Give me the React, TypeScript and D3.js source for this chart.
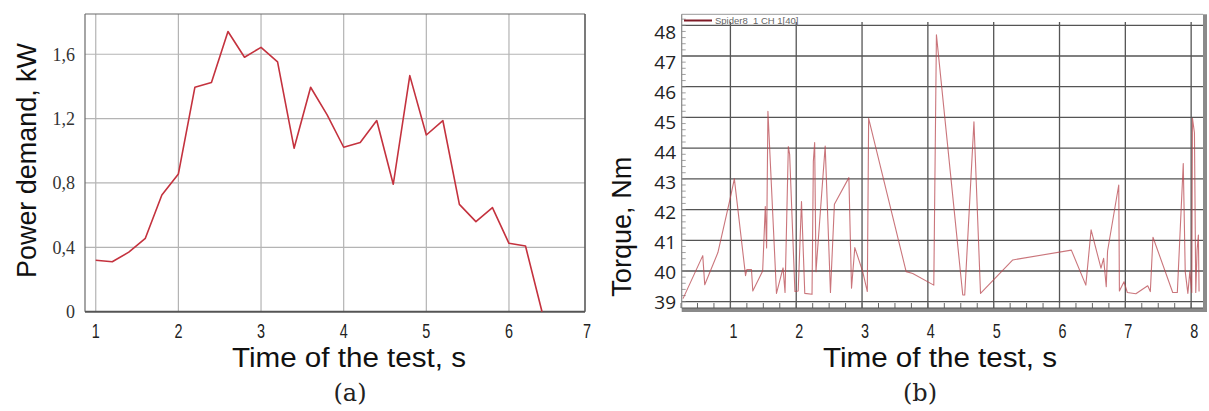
import React from 'react';
import * as d3 from 'd3';

// (a) power demand, sampled every 0.2 s
const timeA = [1, 1.2, 1.4, 1.6, 1.8, 2, 2.2, 2.4, 2.6, 2.8, 3, 3.2, 3.4, 3.6, 3.8, 4, 4.2, 4.4, 4.6, 4.8, 5, 5.2, 5.4, 5.6, 5.8, 6, 6.2, 6.4];
const power = [0.32, 0.31, 0.37, 0.456, 0.725, 0.856, 1.395, 1.424, 1.741, 1.581, 1.643, 1.552, 1.016, 1.395, 1.223, 1.022, 1.051, 1.188, 0.792, 1.467, 1.098, 1.188, 0.667, 0.56, 0.647, 0.425, 0.408, 0];
const xTicksA = [1, 2, 3, 4, 5, 6, 7];
const yTicksA = [0, 0.4, 0.8, 1.2, 1.6];
const yLabelsA = ['0', '0,4', '0,8', '1,2', '1,6'];

// (b) torque, Spider8 recording
const timeB = [0.28, 0.58, 0.61, 0.81, 0.99, 1.06, 1.23, 1.25, 1.32, 1.34, 1.49, 1.53, 1.55, 1.57, 1.7, 1.8, 1.83, 1.88, 1.9, 1.98, 2.03, 2.08, 2.13, 2.24, 2.26, 2.28, 2.3, 2.44, 2.52, 2.58, 2.8, 2.84, 2.89, 3.01, 3.08, 3.1, 3.67, 3.77, 4.09, 4.13, 4.53, 4.56, 4.7, 4.8, 5.29, 6.18, 6.4, 6.48, 6.63, 6.67, 6.71, 6.73, 6.9, 6.91, 6.98, 7.03, 7.16, 7.34, 7.38, 7.42, 7.72, 7.79, 7.88, 7.91, 7.95, 7.98, 8.01, 8.02, 8.05, 8.07, 8.09, 8.11, 8.12];
const torque = [39.1, 40.5, 39.55, 40.6, 42.3, 43.0, 39.85, 40.05, 40.05, 39.35, 40.0, 42.1, 40.75, 45.2, 39.27, 40.1, 39.3, 44.05, 43.8, 39.33, 39.35, 42.26, 39.27, 39.24, 43.56, 44.18, 39.98, 44.07, 39.3, 42.17, 43.04, 39.44, 40.76, 39.98, 39.33, 44.97, 39.98, 39.92, 39.54, 47.69, 39.22, 39.22, 44.86, 39.27, 40.36, 40.68, 39.54, 41.34, 40.09, 40.41, 39.49, 40.65, 42.8, 39.35, 39.65, 39.3, 39.26, 39.52, 39.33, 41.1, 39.3, 39.3, 43.5, 39.98, 39.27, 39.98, 39.3, 44.97, 44.5, 39.3, 40.68, 41.17, 39.33];
const xTicksB = [1, 2, 3, 4, 5, 6, 7, 8];
const yTicksB = [39, 40, 41, 42, 43, 44, 45, 46, 47, 48];
const legendB = 'Spider8_1 CH 1[40]';

const titleFont = '"Liberation Sans", Arial, sans-serif';

// condensed digits under the x axes
const NarrowLabel = ({ x, y, children }: { x: number; y: number; children: React.ReactNode }) => (
  <text transform={`translate(${x},${y}) scale(0.72,1)`} dy="0.36em" textAnchor="middle"
    fontFamily={titleFont} fontSize={20} fill="#222">{children}</text>
);

const PowerChart = () => {
  const left = 85, right = 585, top = 14, bottom = 311.7;
  const x = d3.scaleLinear().domain([0.87, 6.92]).range([left, right]);
  const y = d3.scaleLinear().domain([0, 1.85]).range([bottom, top]);
  const line = d3.line<number>().x((d, i) => x(timeA[i])).y(d => y(d));

  return (
    <g>
      <rect x={left} y={top} width={right - left} height={bottom - top} fill="#fff" />
      {xTicksA.filter(t => t < 7).map(t => (
        <line key={'gx' + t} x1={x(t)} x2={x(t)} y1={top} y2={bottom} stroke="#b4b4b4" strokeWidth={1.2} />
      ))}
      {yTicksA.filter(t => t > 0).map(t => (
        <line key={'gy' + t} x1={left} x2={right} y1={y(t)} y2={y(t)} stroke="#b4b4b4" strokeWidth={1.2} />
      ))}
      <line x1={left} x2={right} y1={top} y2={top} stroke="#6a6a6a" strokeWidth={1.2} />
      <line x1={left} x2={left} y1={top} y2={bottom} stroke="#6a6a6a" strokeWidth={1.2} />
      <line x1={right} x2={right} y1={top} y2={bottom} stroke="#5a5a5a" strokeWidth={1.6} />
      <line x1={left} x2={right} y1={bottom} y2={bottom} stroke="#555" strokeWidth={2} />
      <path d={line(power) || ''} fill="none" stroke="#c4323e" strokeWidth={1.6} strokeLinejoin="round" />
      {yTicksA.map((t, i) => (
        <text key={'ly' + t} x={75} y={y(t)} dy="0.36em" textAnchor="end"
          fontFamily='"Liberation Serif", serif' fontSize={18} fill="#333">{yLabelsA[i]}</text>
      ))}
      {xTicksA.map(t => (
        <NarrowLabel key={'lx' + t} x={Math.min(x(t), 587)} y={331}>{t}</NarrowLabel>
      ))}
      <text transform="translate(36,160.5) rotate(-90)" textAnchor="middle" fontFamily={titleFont}
        fontSize={27} fill="#111" textLength={235} lengthAdjust="spacingAndGlyphs">Power demand, kW</text>
      <text x={349} y={367} textAnchor="middle" fontFamily={titleFont} fontSize={27} fill="#111"
        textLength={234} lengthAdjust="spacingAndGlyphs">Time of the test, s</text>
      <text x={350} y={401} textAnchor="middle" fontFamily='"DejaVu Serif", serif' fontSize={24} fill="#222">(a)</text>
    </g>
  );
};

const TorqueChart = () => {
  const left = 681.7, right = 1203, top = 14.3, axisY = 308;
  const x = d3.scaleLinear().domain([0.26, 8.18]).range([left, right]);
  const y = d3.scaleLinear().domain([39, 48]).range([301.7, 25.3]);
  // tick labels were laid over the plot with slightly tighter spacing
  const yLab = d3.scaleLinear().domain([39, 48]).range([302.3, 32.5]);
  const line = d3.line<number>().x((d, i) => x(timeB[i])).y(d => y(d));
  const minorX = d3.range(0.25, 8.01, 0.25);
  const minorY = d3.range(39, 48.35, 0.2);

  return (
    <g>
      <rect x={left} y={top} width={right - left} height={axisY - top} fill="#fff" />
      {xTicksB.map(t => (
        <line key={'gx' + t} x1={x(t)} x2={x(t)} y1={22} y2={axisY} stroke="#555" strokeWidth={1.3} />
      ))}
      {yTicksB.map(t => (
        <line key={'gy' + t} x1={left} x2={right} y1={y(t)} y2={y(t)} stroke="#555" strokeWidth={1.3} />
      ))}
      {minorX.map(t => (
        <line key={'mx' + t} x1={x(t)} x2={x(t)} y1={axisY - 5} y2={axisY} stroke="#666" strokeWidth={1} />
      ))}
      {minorY.map(t => (
        <line key={'my' + t} x1={left} x2={left + 4} y1={y(t)} y2={y(t)} stroke="#888" strokeWidth={0.8} />
      ))}
      <line x1={left} x2={right} y1={top} y2={top} stroke="#999" strokeWidth={1} />
      <line x1={left} x2={left} y1={top} y2={axisY} stroke="#888" strokeWidth={1.2} />
      <rect x={right} y={top} width={4} height={axisY - top + 4} fill="#8a8a8a" />
      <rect x={left} y={axisY} width={right - left + 4} height={4} fill="#8a8a8a" />
      <line x1={left} x2={right} y1={axisY} y2={axisY} stroke="#555" strokeWidth={1} />
      <path d={line(torque) || ''} fill="none" stroke="#b8474f" strokeOpacity={0.75} strokeWidth={1.1} strokeLinejoin="round" />
      <line x1={684} x2={712} y1={20.5} y2={20.5} stroke="#7e1a26" strokeWidth={2} />
      <text x={715} y={24} fontFamily={titleFont} fontSize={9.5} fill="#666">{legendB}</text>
      {yTicksB.map(t => (
        <text key={'ly' + t} x={676} y={yLab(t)} dy="0.36em" textAnchor="end"
          fontFamily='"Open Sans", sans-serif' fontSize={19} fill="#222">{t}</text>
      ))}
      {xTicksB.map(t => (
        <NarrowLabel key={'lx' + t} x={Math.min(x(t) + 3, 1202)} y={331}>{t}</NarrowLabel>
      ))}
      <text transform="translate(631,226.7) rotate(-90)" textAnchor="middle" fontFamily={titleFont}
        fontSize={27} fill="#111" textLength={140} lengthAdjust="spacingAndGlyphs">Torque, Nm</text>
      <text x={940} y={367} textAnchor="middle" fontFamily={titleFont} fontSize={27} fill="#111"
        textLength={234} lengthAdjust="spacingAndGlyphs">Time of the test, s</text>
      <text x={920} y={401} textAnchor="middle" fontFamily='"DejaVu Serif", serif' fontSize={24} fill="#222">(b)</text>
    </g>
  );
};

export default function App() {
  return (
    <svg width={1209} height={411} style={{ position: 'absolute', left: 0, top: 0, background: '#fff' }}>
      <rect width={1209} height={411} fill="#fff" />
      <PowerChart />
      <TorqueChart />
    </svg>
  );
}
